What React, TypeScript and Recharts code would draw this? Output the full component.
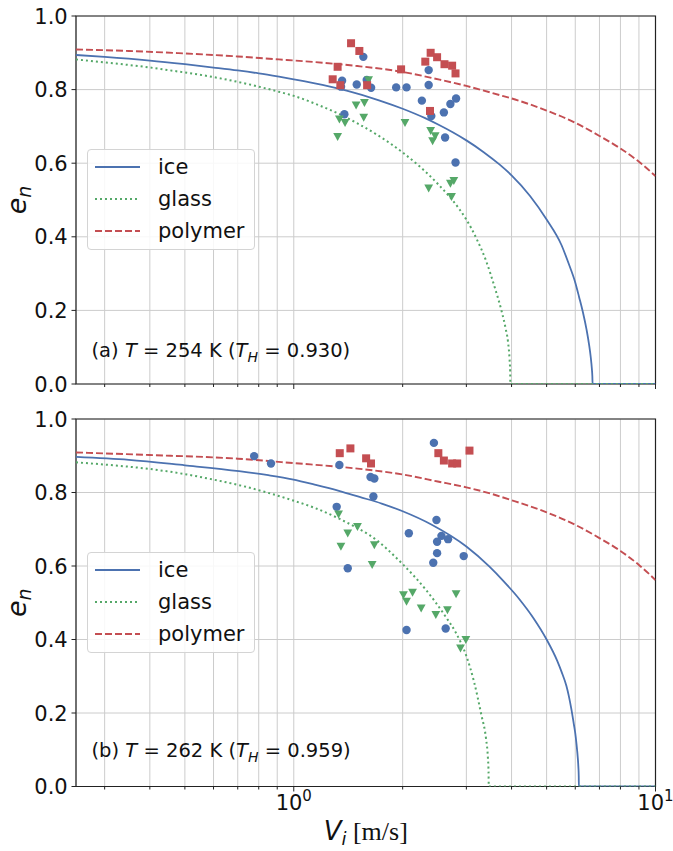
import React from "react";
import {
  ComposedChart,
  Line,
  Scatter,
  XAxis,
  YAxis,
  CartesianGrid,
  ReferenceArea,
  Legend,
} from "recharts";

type Pt = [number, number];

// axes
const xDomain = [0.25, 10];
const xTicks = [0.3, 0.4, 0.5, 0.6, 0.7, 0.8, 0.9, 1, 2, 3, 4, 5, 6, 7, 8, 9, 10];
const yTicks = [0, 0.2, 0.4, 0.6, 0.8, 1.0];
const seriesNames = ["ice", "glass", "polymer"];

// (a) T = 254 K : model curves [V, e_n]
const iceCurveA: Pt[] = [
  [0.25, 0.894], [0.3, 0.889], [0.4, 0.879], [0.5, 0.869], [0.6, 0.86], [0.7, 0.852],
  [0.8, 0.844], [0.91, 0.835], [1.0, 0.828], [1.2, 0.813], [1.4, 0.797], [1.72, 0.771],
  [2.0, 0.748], [2.3, 0.723], [2.53, 0.703], [2.75, 0.684], [3.0, 0.662], [3.35, 0.63],
  [3.71, 0.596], [4.0, 0.567], [4.5, 0.511], [5.0, 0.447], [5.5, 0.377], [5.75, 0.328],
  [6.0, 0.276], [6.15, 0.236], [6.3, 0.195], [6.45, 0.147], [6.55, 0.108], [6.62, 0.074],
  [6.67, 0.041], [6.69, 0.021], [6.7, 0], [10, 0],
];
const glassCurveA: Pt[] = [
  [0.25, 0.882], [0.3, 0.874], [0.4, 0.86], [0.48, 0.849], [0.6, 0.834], [0.7, 0.821],
  [0.8, 0.808], [0.91, 0.794], [1.0, 0.783], [1.15, 0.761], [1.34, 0.733], [1.5, 0.708],
  [1.72, 0.674], [2.0, 0.629], [2.23, 0.591], [2.5, 0.544], [2.87, 0.475], [3.0, 0.447],
  [3.2, 0.395], [3.4, 0.335], [3.6, 0.26], [3.75, 0.2], [3.85, 0.152], [3.91, 0.115],
  [3.95, 0.067], [3.965, 0.033], [3.97, 0], [10, 0],
];
const polymerCurveA: Pt[] = [
  [0.25, 0.909], [0.35, 0.905], [0.48, 0.899], [0.7, 0.89], [0.91, 0.882], [1.2, 0.873],
  [1.5, 0.864], [2.0, 0.848], [2.53, 0.827], [3.0, 0.81], [3.71, 0.785], [4.0, 0.776],
  [5.0, 0.743], [6.0, 0.71], [7.0, 0.674], [8.0, 0.64], [9.0, 0.604], [10, 0.565],
];

// (a) measured points [V, e_n]
const icePointsA: Pt[] = [
  [1.557, 0.889], [1.36, 0.824], [1.351, 0.808], [1.493, 0.814], [1.591, 0.826],
  [1.636, 0.805], [1.919, 0.806], [2.05, 0.806], [2.36, 0.853], [2.36, 0.8125],
  [2.26, 0.77], [2.81, 0.776], [2.71, 0.761], [2.6, 0.738], [2.4, 0.728],
  [1.38, 0.733], [2.62, 0.67], [2.8, 0.602],
];
const glassPointsA: Pt[] = [
  [1.61, 0.826], [1.487, 0.757], [1.568, 0.764], [1.561, 0.724], [1.337, 0.719],
  [1.386, 0.71], [1.322, 0.672], [2.03, 0.71], [2.39, 0.688], [2.46, 0.674],
  [2.42, 0.66], [2.36, 0.532], [2.77, 0.552], [2.71, 0.545], [2.73, 0.509],
];
const polymerPointsA: Pt[] = [
  [1.44, 0.926], [1.518, 0.905], [1.322, 0.862], [1.281, 0.828], [1.345, 0.812],
  [1.595, 0.812], [1.98, 0.855], [2.31, 0.876], [2.39, 0.9], [2.49, 0.888],
  [2.61, 0.869], [2.74, 0.865], [2.8, 0.844], [2.38, 0.742],
];

// (b) T = 262 K : model curves
const iceCurveB: Pt[] = [
  [0.25, 0.897], [0.35, 0.889], [0.5, 0.874], [0.706, 0.858], [0.85, 0.847], [0.99, 0.836],
  [1.15, 0.821], [1.34, 0.804], [1.52, 0.788], [1.75, 0.77], [2.0, 0.749], [2.4, 0.713],
  [3.0, 0.653], [3.47, 0.599], [3.8, 0.559], [4.21, 0.509], [4.6, 0.458], [5.0, 0.4],
  [5.35, 0.342], [5.5, 0.312], [5.67, 0.274], [5.76, 0.246], [5.85, 0.212], [5.95, 0.168],
  [6.0, 0.145], [6.05, 0.114], [6.1, 0.076], [6.12, 0.054], [6.135, 0.027], [6.14, 0], [10, 0],
];
const glassCurveB: Pt[] = [
  [0.25, 0.882], [0.3, 0.876], [0.4, 0.864], [0.5, 0.85], [0.6, 0.835], [0.706, 0.82],
  [0.85, 0.799], [0.99, 0.779], [1.15, 0.757], [1.34, 0.728], [1.5, 0.703], [1.62, 0.684],
  [2.0, 0.605], [2.32, 0.535], [2.63, 0.462], [2.8, 0.42], [3.0, 0.355], [3.15, 0.285],
  [3.3, 0.195], [3.4, 0.13], [3.44, 0.08], [3.455, 0.04], [3.46, 0], [10, 0],
];
const polymerCurveB: Pt[] = [
  [0.25, 0.909], [0.4, 0.902], [0.7, 0.892], [1.0, 0.88], [1.5, 0.865], [2.0, 0.849],
  [2.5, 0.83], [3.0, 0.814], [3.5, 0.797], [4.0, 0.779], [5.0, 0.746], [6.0, 0.712],
  [7.0, 0.676], [8.0, 0.641], [9.0, 0.603], [10, 0.562],
];

// (b) measured points
const icePointsB: Pt[] = [
  [0.777, 0.899], [0.865, 0.879], [1.337, 0.875], [1.314, 0.761], [1.41, 0.594],
  [1.63, 0.842], [1.67, 0.838], [1.66, 0.789], [2.08, 0.689], [2.44, 0.935],
  [2.48, 0.725], [2.56, 0.682], [2.67, 0.673], [2.49, 0.666], [2.49, 0.635],
  [2.43, 0.609], [2.95, 0.627], [2.05, 0.426], [2.63, 0.43],
];
const glassPointsB: Pt[] = [
  [1.33, 0.741], [1.41, 0.689], [1.5, 0.707], [1.35, 0.653], [1.67, 0.657],
  [1.647, 0.603], [2.01, 0.521], [2.05, 0.503], [2.13, 0.528], [2.25, 0.485],
  [2.47, 0.467], [2.66, 0.48], [2.81, 0.524], [2.89, 0.376], [2.99, 0.399],
];
const polymerPointsB: Pt[] = [
  [1.34, 0.907], [1.434, 0.92], [1.585, 0.893], [1.635, 0.879], [2.51, 0.907],
  [2.6, 0.887], [2.74, 0.879], [2.83, 0.879], [3.06, 0.914],
];

const BLUE = "#4c72b0";
const GREEN = "#55a868";
const RED = "#c44e52";
const AX = "#222";
const GRID = "#cccccc";
const FONT = "DejaVu Sans";

const rows = (pts: Pt[]) => pts.map(([v, e]) => ({ v, e }));

const Dot = (p: any) => <circle cx={p.cx} cy={p.cy} r={4.2} fill={BLUE} />;
const Sq = (p: any) => <rect x={p.cx - 4} y={p.cy - 4} width={8} height={8} fill={RED} />;
const TriDown = (p: any) => (
  <path
    d={`M${p.cx - 4.4},${p.cy - 3.8} L${p.cx + 4.4},${p.cy - 3.8} L${p.cx},${p.cy + 4.2} Z`}
    fill={GREEN}
  />
);

const XTick = ({ x, y, payload, labels }: any) => {
  const v = payload.value;
  const major = v === 1 || v === 10;
  return (
    <g>
      <line x1={x} x2={x} y1={y} y2={y + (major ? 5 : 3)} stroke={AX} strokeWidth={1} />
      {labels && major && (
        <text x={x} y={y + 23.5} textAnchor="middle" fontSize={21} fontFamily={FONT} fill="#111">
          10
          <tspan fontSize={15} dy={-9}>
            {v === 1 ? "0" : "1"}
          </tspan>
        </text>
      )}
    </g>
  );
};

const YTick = ({ x, y, payload }: any) => (
  <g>
    <line x1={x - 4.5} x2={x} y1={y} y2={y} stroke={AX} strokeWidth={1} />
    <text x={x - 8.3} y={y} dy="0.36em" textAnchor="end" fontSize={21} fontFamily={FONT} fill="#111">
      {payload.value.toFixed(1)}
    </text>
  </g>
);

const legendStyles = [
  { color: BLUE, dash: undefined, width: 1.8 },
  { color: GREEN, dash: "2 3", width: 2 },
  { color: RED, dash: "7 3", width: 1.9 },
];

const LegendBox = () => (
  <div
    style={{
      position: "relative",
      width: 168,
      height: 101,
      boxSizing: "border-box",
      border: "1px solid #d4d4d4",
      borderRadius: 4,
      background: "rgba(255,255,255,0.85)",
      fontFamily: FONT,
      fontSize: 21,
      color: "#111",
    }}
  >
    {seriesNames.map((name, i) => (
      <div
        key={name}
        style={{
          position: "absolute",
          left: 0,
          top: 17 + 32.2 * i - 12,
          height: 24,
          display: "flex",
          alignItems: "center",
        }}
      >
        <svg width={60} height={24}>
          <line
            x1={7}
            x2={52}
            y1={12}
            y2={12}
            stroke={legendStyles[i].color}
            strokeWidth={legendStyles[i].width}
            strokeDasharray={legendStyles[i].dash}
          />
        </svg>
        <span style={{ marginLeft: 10, lineHeight: "24px" }}>{name}</span>
      </div>
    ))}
  </div>
);

type PanelProps = {
  ice: Pt[];
  glass: Pt[];
  polymer: Pt[];
  iceP: Pt[];
  glassP: Pt[];
  polymerP: Pt[];
  height: number;
  xAxisHeight: number;
  labels: boolean;
};

function Panel(p: PanelProps) {
  return (
    <ComposedChart width={673} height={p.height} margin={{ top: 16, right: 17.5, left: 0, bottom: 0 }}>
      <CartesianGrid stroke={GRID} strokeWidth={1} />
      <XAxis
        dataKey="v"
        type="number"
        scale="log"
        domain={xDomain}
        allowDataOverflow
        ticks={xTicks}
        interval={0}
        height={p.xAxisHeight}
        axisLine={false}
        tickLine={false}
        tickSize={0}
        tickMargin={0}
        tick={(t: any) => <XTick {...t} labels={p.labels} />}
      />
      <YAxis
        dataKey="e"
        type="number"
        domain={[0, 1]}
        allowDataOverflow
        ticks={yTicks}
        interval={0}
        width={76}
        axisLine={false}
        tickLine={false}
        tickSize={0}
        tickMargin={0}
        tick={(t: any) => <YTick {...t} />}
      />
      <Line data={rows(p.ice)} dataKey="e" type="monotone" stroke={BLUE} strokeWidth={1.8} dot={false} isAnimationActive={false} />
      <Line data={rows(p.glass)} dataKey="e" type="monotone" stroke={GREEN} strokeWidth={2} strokeDasharray="2 3" dot={false} isAnimationActive={false} />
      <Line data={rows(p.polymer)} dataKey="e" type="monotone" stroke={RED} strokeWidth={1.9} strokeDasharray="7 3" dot={false} isAnimationActive={false} />
      <Scatter data={rows(p.iceP)} dataKey="e" shape={Dot} isAnimationActive={false} />
      <Scatter data={rows(p.glassP)} dataKey="e" shape={TriDown} isAnimationActive={false} />
      <Scatter data={rows(p.polymerP)} dataKey="e" shape={Sq} isAnimationActive={false} />
      <ReferenceArea x1={0.25} x2={10} y1={0} y2={1} fill="none" stroke={AX} strokeWidth={1.2} ifOverflow="visible" />
      <Legend
        content={<LegendBox />}
        layout="horizontal"
        verticalAlign="middle"
        align="center"
        wrapperStyle={{ left: 87, top: 148.7, width: 168, height: 101 }}
      />
    </ComposedChart>
  );
}

function Note({ y, tag, temp, th }: { y: number; tag: string; temp: string; th: string }) {
  return (
    <text x={91.5} y={y} fontSize={19.5} fontFamily={FONT} fill="#111">
      ({tag}) <tspan fontStyle="italic">T</tspan> = {temp} K (<tspan fontStyle="italic">T</tspan>
      <tspan fontSize={14} dy={5} fontStyle="italic">H</tspan>
      <tspan dy={-5}> = {th})</tspan>
    </text>
  );
}

function YLabel({ cy }: { cy: number }) {
  return (
    <text transform={`translate(26,${cy}) rotate(-90)`} textAnchor="middle" fontSize={27} fontFamily={FONT} fontStyle="italic" fill="#111">
      e<tspan fontSize={19} dy={5}>n</tspan>
    </text>
  );
}

export default function App() {
  return (
    <div style={{ position: "absolute", left: 0, top: 0, width: 673, height: 851, background: "#fff" }}>
      <div style={{ position: "absolute", left: 0, top: 0 }}>
        <Panel
          ice={iceCurveA}
          glass={glassCurveA}
          polymer={polymerCurveA}
          iceP={icePointsA}
          glassP={glassPointsA}
          polymerP={polymerPointsA}
          height={400}
          xAxisHeight={16}
          labels={false}
        />
      </div>
      <div style={{ position: "absolute", left: 0, top: 403 }}>
        <Panel
          ice={iceCurveB}
          glass={glassCurveB}
          polymer={polymerCurveB}
          iceP={icePointsB}
          glassP={glassPointsB}
          polymerP={polymerPointsB}
          height={448}
          xAxisHeight={64.5}
          labels={true}
        />
      </div>
      <svg width={673} height={851} style={{ position: "absolute", left: 0, top: 0, pointerEvents: "none" }}>
        <YLabel cy={200} />
        <YLabel cy={602.75} />
        <Note y={357} tag="a" temp="254" th="0.930" />
        <Note y={757} tag="b" temp="262" th="0.959" />
        <text x={365.75} y={840} textAnchor="middle" fontSize={26} fontFamily={FONT} fill="#111">
          <tspan fontStyle="italic">V</tspan>
          <tspan fontSize={18} dy={5} fontStyle="italic">i</tspan>
          <tspan dy={-5} fontFamily="Liberation Serif"> [m/s]</tspan>
        </text>
      </svg>
    </div>
  );
}
